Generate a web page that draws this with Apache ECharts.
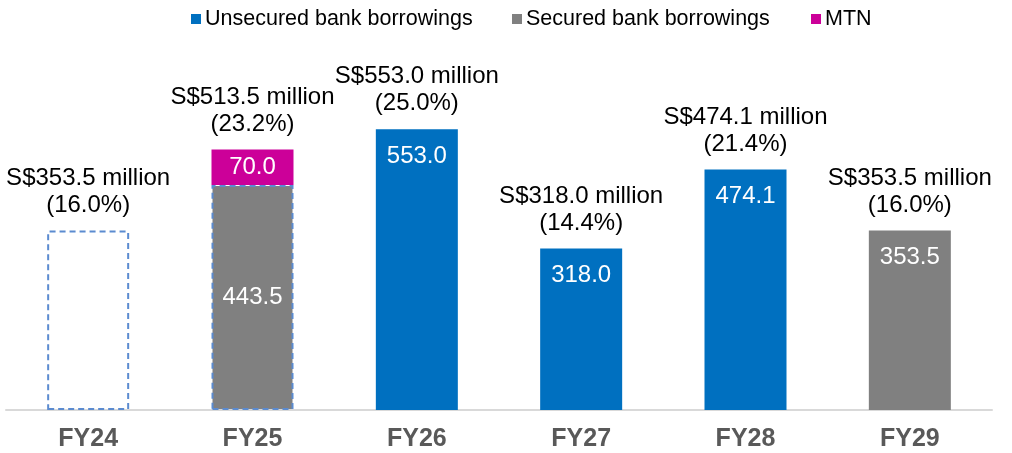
<!DOCTYPE html>
<html>
<head>
<meta charset="utf-8">
<script src="https://cdn.jsdelivr.net/npm/echarts@6/dist/echarts.min.js"></script>
<style>
  html, body { margin: 0; padding: 0; background: #ffffff; }
  #chart { width: 1012px; height: 453px; }
</style>
</head>
<body>
<div id="chart"></div>
<script>
// Debt maturity profile (S$ million)
const categories = ['FY24', 'FY25', 'FY26', 'FY27', 'FY28', 'FY29'];
const refinanced = [353.5, null, null, null, null, null];
const unsecured = [null, null, 553.0, 318.0, 474.1, null];
const secured = [null, 443.5, null, null, null, 353.5];
const mtn = [null, 70.0, null, null, null, null];
const sharePct = [16.0, 23.2, 25.0, 14.4, 21.4, 16.0];

const FONT = "'Liberation Sans', Arial, sans-serif";
const BLUE = '#0070C0';
const GREY = '#808080';
const MAGENTA = '#CC0099';
const DASH_BLUE = '#5B8BD0';

const totals = categories.map((_, i) =>
  [refinanced, unsecured, secured, mtn].reduce((s, arr) => s + (arr[i] || 0), 0));

const valueLabel = {
  show: true,
  color: '#ffffff',
  fontFamily: FONT,
  fontSize: 24,
  formatter: p => Number(p.value).toFixed(1)
};

// Segment data: top segment gets its label near the top, lower segment centred.
function segData(arr, hasAbove, dashed) {
  return arr.map((v, i) => {
    if (v == null) return '-';
    const item = {
      value: v,
      label: Object.assign({}, valueLabel,
        hasAbove(i) ? { position: 'inside' } : { position: 'insideTop', distance: 15 })
    };
    if (dashed && dashed(i)) {
      item.itemStyle = { borderColor: DASH_BLUE, borderWidth: 2, borderType: [6, 4] };
    }
    return item;
  });
}

const chart = echarts.init(document.getElementById('chart'), null, { renderer: 'canvas' });

chart.setOption({
  animation: false,
  backgroundColor: '#ffffff',
  textStyle: { fontFamily: FONT },
  legend: [
    { data: ['Unsecured bank borrowings'], left: 186, top: 3 },
    { data: ['Secured bank borrowings'], left: 507, top: 3 },
    { data: ['MTN'], left: 806, top: 3 }
  ].map(l => Object.assign(l, {
    icon: 'rect',
    itemWidth: 10,
    itemHeight: 10,
    itemGap: 0,
    textStyle: { fontSize: 21.5, color: '#000000', fontFamily: FONT, padding: [0, 0, 0, -1] }
  })),
  grid: { left: 6, right: 20, top: 105.5, bottom: 43, containLabel: false },
  xAxis: {
    type: 'category',
    data: categories,
    axisTick: { show: false },
    axisLine: { lineStyle: { color: '#d9d9d9', width: 2 } },
    axisLabel: {
      color: '#595959',
      fontWeight: 'bold',
      fontSize: 25,
      fontFamily: FONT,
      margin: 17
    }
  },
  yAxis: {
    type: 'value',
    min: 0,
    max: 600,
    show: false,
    splitLine: { show: false }
  },
  series: [
    {
      name: 'Refinanced',
      type: 'bar',
      stack: 'total',
      barWidth: 82,
      data: refinanced.map(v => v == null ? '-' : v),
      itemStyle: {
        color: 'rgba(0,0,0,0)',
        borderColor: DASH_BLUE,
        borderWidth: 2,
        borderType: [6, 4]
      },
      silent: true
    },
    {
      name: 'Unsecured bank borrowings',
      type: 'bar',
      stack: 'total',
      barWidth: 82,
      itemStyle: { color: BLUE },
      data: segData(unsecured, i => mtn[i] != null)
    },
    {
      name: 'Secured bank borrowings',
      type: 'bar',
      stack: 'total',
      barWidth: 82,
      itemStyle: { color: GREY },
      data: segData(secured, i => mtn[i] != null, i => mtn[i] != null)
    },
    {
      name: 'MTN',
      type: 'bar',
      stack: 'total',
      barWidth: 82,
      itemStyle: { color: MAGENTA },
      data: segData(mtn, () => true)
    },
    {
      // Invisible totals bar carrying the amount / share annotation
      name: 'Total',
      type: 'bar',
      barWidth: 82,
      barGap: '-100%',
      silent: true,
      z: 1,
      itemStyle: { color: 'rgba(0,0,0,0)' },
      data: totals,
      label: {
        show: true,
        position: 'top',
        distance: 12,
        formatter: p => '{t|S$' + totals[p.dataIndex].toFixed(1) + ' million}\n{t|(' +
          sharePct[p.dataIndex].toFixed(1) + '%)}',
        rich: {
          t: { fontSize: 24, lineHeight: 27, color: '#000000', fontFamily: FONT, align: 'center' }
        }
      }
    }
  ]
});
</script>
</body>
</html>
